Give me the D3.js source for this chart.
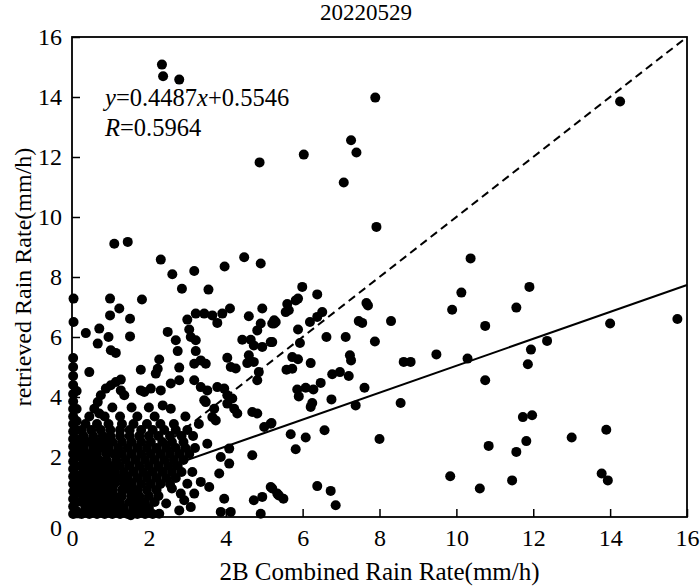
<!DOCTYPE html>
<html>
<head>
<meta charset="utf-8">
<script src="https://cdn.jsdelivr.net/npm/d3@7"></script>
<style>
  body { margin: 0; background: #fff; }
  text { font-family: "Liberation Serif", "Times New Roman", serif; fill: #000; }
</style>
</head>
<body>
<div id="chart"></div>
<script>

// data: [2B combined, retrieved] in mm/h
const titleText = "20220529";
const xTicks = [0, 2, 4, 6, 8, 10, 12, 14, 16];
const yTicks = [0, 2, 4, 6, 8, 10, 12, 14, 16];
const fitSlope = 0.4487;
const fitIntercept = 0.5546;
const fitR = 0.5964;

const sparsePoints = [
  [2.34,15.08],[2.37,14.69],[2.79,14.58],[7.89,13.98],[7.26,12.56],[7.40,12.15],[6.03,12.08],[4.88,11.82],
  [7.07,11.15],[7.92,9.67],[1.10,9.11],[1.45,9.17],[2.31,8.58],[2.61,8.09],[3.18,8.2],[3.97,8.35],
  [4.48,8.66],[4.91,8.45],[2.86,7.61],[3.55,7.58],[5.99,7.67],[14.26,13.85],[10.37,8.62],[11.9,7.67],
  [6.38,7.42],[5.6,7.1],[5.82,7.22],[5.56,6.83],[5.64,6.89],[5.88,7.28],[7.66,7.13],[7.7,7.05],
  [6.51,6.83],[6.19,6.5],[6.38,6.67],[5.3,6.5],[5.26,6.45],[7.46,6.53],[7.55,6.47],[8.3,6.53],
  [10.13,7.48],[9.89,6.91],[10.75,6.37],[5.88,6.25],[5.21,5.83],[5.93,5.8],[6.62,6.0],[7.12,6.0],
  [7.88,5.85],[9.48,5.42],[8.63,5.17],[8.81,5.17],[10.29,5.28],[10.75,4.56],[5.73,5.33],[5.88,5.26],
  [6.21,5.13],[7.23,5.39],[7.26,5.22],[5.58,4.91],[5.73,4.94],[6.77,4.76],[6.97,4.83],[7.2,4.7],
  [6.47,4.47],[5.86,4.25],[6.08,4.31],[6.28,4.25],[5.9,4.02],[7.61,4.31],[6.75,3.92],[6.25,3.8],
  [6.21,3.67],[7.38,3.72],[8.55,3.8],[5.19,3.13],[5.69,2.76],[6.08,2.65],[6.57,2.89],[5.82,2.26],
  [8.0,2.6],[9.84,1.36],[10.61,0.95],[5.21,0.95],[5.38,0.72],[5.5,0.61],[6.38,1.03],[6.73,0.87],
  [6.86,0.39],[10.84,2.37],[11.56,6.98],[14.0,6.45],[15.75,6.6],[12.36,5.87],[11.94,5.58],[11.86,5.09],
  [11.73,3.33],[11.97,3.39],[13.9,2.91],[11.82,2.53],[11.56,2.17],[13.0,2.65],[13.78,1.45],[13.94,1.22],
  [11.45,1.22]
];

const midPoints = [
  [0.04,7.28],[0.04,6.5],[0.36,6.13],[0.99,7.28],[1.23,6.95],[0.99,6.72],[1.51,6.61],[1.82,7.25],
  [0.71,6.28],[0.95,6.0],[0.67,5.78],[1.51,6.02],[1.01,5.56],[1.14,5.47],[3.22,6.78],[3.44,6.78],
  [3.65,6.72],[3.91,6.78],[4.11,6.95],[3.0,6.58],[2.49,6.17],[3.05,6.25],[3.09,6.0],[2.7,5.89],
  [2.75,5.53],[3.22,5.89],[3.22,5.53],[3.35,5.22],[3.48,5.11],[3.18,5.11],[2.79,4.98],[3.78,6.47],
  [4.6,6.69],[4.95,6.95],[5.21,6.45],[4.91,6.45],[4.82,6.22],[4.43,5.91],[4.65,5.91],[4.73,5.72],
  [4.95,5.67],[4.6,5.39],[4.56,5.13],[4.73,5.17],[4.04,5.31],[4.13,5.0],[4.26,4.95],[4.86,4.83],
  [4.82,4.56],[5.17,5.83],[5.26,6.56],[2.27,5.25],[2.23,4.94],[2.18,4.78],[1.79,4.91],[0.45,4.83],
  [1.79,4.22],[2.05,4.28],[1.88,4.17],[1.27,4.58],[1.14,4.5],[1.01,4.39],[0.88,4.28],[0.75,4.06],
  [0.67,3.83],[0.58,3.61],[0.71,3.45],[1.27,4.22],[1.36,4.06],[2.31,4.22],[2.57,4.45],[2.79,4.56],
  [2.36,3.72],[2.57,3.61],[3.18,4.56],[3.35,4.33],[3.52,4.22],[3.48,3.83],[3.78,4.33],[3.96,4.28],
  [4.04,4.06],[4.17,3.95],[4.04,3.78],[4.22,3.61],[4.3,3.45],[3.7,3.61],[3.65,3.33],[3.74,3.22],
  [3.44,3.89],[4.69,3.5],[4.82,3.45],[5.0,3.0],[5.17,3.11],[3.52,2.44],[4.09,2.28],[3.87,2.0],
  [4.09,1.78],[4.69,2.06],[3.13,1.5],[3.35,1.17],[3.83,1.45],[3.57,1.0],[3.96,0.61],[3.0,1.11],
  [2.83,0.78],[3.18,0.78],[2.92,0.56],[3.09,0.33],[2.79,0.22],[4.73,0.56],[4.95,0.67],[5.17,1.0],
  [5.34,0.78],[3.87,0.17],[4.13,0.17],[4.91,0.11],[1.53,0.06],[2.27,0.11],[2.45,0.45],[2.6,0.95]
];

// points stacked along x = 0
const axisColumn = [
  [0.03,0.1],[0.03,0.35],[0.03,0.6],[0.03,0.85],[0.03,1.1],[0.03,1.35],[0.03,1.6],[0.03,1.85],
  [0.03,2.1],[0.03,2.35],[0.03,2.6],[0.03,2.85],[0.03,3.1],[0.03,3.35],[0.03,3.6],[0.03,3.85],
  [0.03,4.1],[0.03,4.4],[0.03,4.7],[0.03,5.0],[0.03,5.3],
  [0.12,0.2],[0.12,0.5],[0.12,0.8],[0.12,1.1],[0.12,1.4],[0.12,1.7],[0.12,2.0],[0.12,2.3],
  [0.12,2.6],[0.12,2.9],[0.12,3.2],[0.12,3.6],[0.12,4.2]
];

// the crowded patch near the origin, row by row
const densePoints = [
  [0.25,0.1],[0.45,0.1],[0.65,0.1],[0.85,0.1],[1.05,0.1],[1.25,0.1],[1.45,0.1],[1.7,0.1],[1.9,0.1],[2.1,0.1],
  [0.35,0.3],[0.55,0.3],[0.75,0.3],[0.95,0.3],[1.15,0.3],[1.35,0.3],[1.6,0.3],[1.8,0.3],[2.0,0.3],
  [0.25,0.5],[0.45,0.5],[0.65,0.5],[0.85,0.5],[1.05,0.5],[1.25,0.5],[1.5,0.5],[1.7,0.5],[1.9,0.5],[2.15,0.5],
  [0.3,0.7],[0.5,0.7],[0.7,0.7],[0.9,0.7],[1.1,0.7],[1.3,0.7],[1.55,0.7],[1.75,0.7],[2.0,0.7],[2.25,0.7],
  [0.25,0.9],[0.45,0.9],[0.65,0.9],[0.85,0.9],[1.05,0.9],[1.3,0.9],[1.5,0.9],[1.7,0.9],[1.95,0.9],[2.2,0.9],
  [0.3,1.1],[0.5,1.1],[0.7,1.1],[0.9,1.1],[1.1,1.1],[1.35,1.1],[1.55,1.1],[1.8,1.1],[2.05,1.1],[2.3,1.1],[2.55,1.1],
  [0.25,1.3],[0.45,1.3],[0.65,1.3],[0.85,1.3],[1.05,1.3],[1.25,1.3],[1.45,1.3],[1.7,1.3],[1.95,1.3],[2.2,1.3],[2.45,1.3],[2.7,1.3],
  [0.3,1.5],[0.5,1.5],[0.7,1.5],[0.9,1.5],[1.1,1.5],[1.35,1.5],[1.6,1.5],[1.85,1.5],[2.1,1.5],[2.35,1.5],[2.6,1.5],[2.85,1.5],
  [0.25,1.7],[0.45,1.7],[0.65,1.7],[0.85,1.7],[1.05,1.7],[1.25,1.7],[1.5,1.7],[1.75,1.7],[2.0,1.7],[2.25,1.7],[2.5,1.7],[2.75,1.7],
  [0.3,1.9],[0.5,1.9],[0.7,1.9],[0.9,1.9],[1.15,1.9],[1.4,1.9],[1.65,1.9],[1.9,1.9],[2.15,1.9],[2.4,1.9],[2.65,1.9],[2.9,1.9],
  [0.25,2.1],[0.45,2.1],[0.65,2.1],[0.9,2.1],[1.1,2.1],[1.3,2.1],[1.55,2.1],[1.8,2.1],[2.05,2.1],[2.3,2.1],[2.55,2.1],[2.8,2.1],[3.05,2.1],
  [0.3,2.3],[0.55,2.3],[0.75,2.3],[0.95,2.3],[1.2,2.3],[1.45,2.3],[1.7,2.3],[1.95,2.3],[2.2,2.3],[2.45,2.3],[2.7,2.3],[2.95,2.3],[3.2,2.3],
  [0.25,2.5],[0.45,2.5],[0.65,2.5],[0.85,2.5],[1.05,2.5],[1.3,2.5],[1.55,2.5],[1.8,2.5],[2.05,2.5],[2.35,2.5],[2.6,2.5],[2.9,2.5],
  [0.3,2.7],[0.55,2.7],[0.8,2.7],[1.0,2.7],[1.25,2.7],[1.5,2.7],[1.75,2.7],[2.0,2.7],[2.25,2.7],[2.55,2.7],[2.85,2.7],[3.15,2.7],
  [0.25,2.9],[0.5,2.9],[0.75,2.9],[1.0,2.9],[1.25,2.9],[1.5,2.9],[1.8,2.9],[2.1,2.9],[2.4,2.9],[2.7,2.9],[3.0,2.9],
  [0.35,3.1],[0.65,3.1],[0.95,3.1],[1.3,3.1],[1.6,3.1],[1.95,3.1],[2.3,3.1],[2.65,3.1],[3.3,3.1],
  [0.45,3.35],[0.85,3.35],[1.25,3.35],[1.7,3.35],[2.15,3.35],[2.95,3.35],
  [1.05,3.65],[1.55,3.65],[2.0,3.65]
];

const allPoints = axisColumn.concat(densePoints, midPoints, sparsePoints);

const margin = {top: 37, right: 13, bottom: 71, left: 72};
const svgWidth = 700;
const svgHeight = 588;
const width = svgWidth - margin.left - margin.right;
const height = svgHeight - margin.top - margin.bottom;
const serif = '"Liberation Serif", "Times New Roman", serif';

let svg = d3.select("#chart").append("svg")
            .attr("width", svgWidth)
            .attr("height", svgHeight)
            .attr("font-family", serif);

let g = svg.append("g").attr("transform", `translate(${margin.left},${margin.top})`);

let xScale = d3.scaleLinear().domain([0, 16]).range([0, width]);
let yScale = d3.scaleLinear().domain([0, 16]).range([height, 0]);

// scatter
g.selectAll("circle.pt")
 .data(allPoints)
 .enter().append("circle")
 .attr("class", "pt")
 .attr("cx", d => xScale(d[0]))
 .attr("cy", d => yScale(d[1]))
 .attr("r", 5)
 .attr("fill", "#000");

// 1:1 line
g.append("line")
 .attr("x1", xScale(0)).attr("y1", yScale(0))
 .attr("x2", xScale(16)).attr("y2", yScale(16))
 .attr("stroke", "#000")
 .attr("stroke-width", 2)
 .attr("stroke-dasharray", "8,5");

// fitted line
g.append("line")
 .attr("x1", xScale(0)).attr("y1", yScale(fitIntercept))
 .attr("x2", xScale(16)).attr("y2", yScale(fitSlope * 16 + fitIntercept))
 .attr("stroke", "#000")
 .attr("stroke-width", 2);

// axes, ticks pointing inward
let xAxis = d3.axisBottom(xScale).tickValues(xTicks).tickSize(-8).tickPadding(12);
let yAxis = d3.axisLeft(yScale).tickValues(yTicks).tickSize(-8).tickPadding(10);

let xAxisGroup = g.append("g").attr("transform", `translate(0,${height})`).call(xAxis);
let yAxisGroup = g.append("g").call(yAxis);

[xAxisGroup, yAxisGroup].forEach(ax => {
  ax.attr("font-family", serif).attr("font-size", 24);
  ax.select(".domain").remove();
  ax.selectAll(".tick line").attr("stroke", "#000").attr("stroke-width", 1.5);
  ax.selectAll(".tick text").attr("fill", "#000");
});
// the zero label on the y axis sits a bit lower
yAxisGroup.selectAll(".tick text").filter(d => d === 0).attr("dy", "0.75em");

// frame
g.append("rect")
 .attr("x", 0).attr("y", 0)
 .attr("width", width).attr("height", height)
 .attr("fill", "none")
 .attr("stroke", "#000")
 .attr("stroke-width", 1.8);

// equation
let eq = g.append("text").attr("x", 33).attr("y", 69).attr("font-size", 24.5);
eq.append("tspan").attr("font-style", "italic").text("y");
eq.append("tspan").text("=" + fitSlope.toFixed(4));
eq.append("tspan").attr("font-style", "italic").text("x");
eq.append("tspan").text("+" + fitIntercept.toFixed(4));

let rText = g.append("text").attr("x", 33).attr("y", 99).attr("font-size", 24.5);
rText.append("tspan").attr("font-style", "italic").text("R");
rText.append("tspan").text("=" + fitR.toFixed(4));

// titles
svg.append("text")
   .attr("x", 366).attr("y", 20)
   .attr("text-anchor", "middle")
   .attr("font-size", 23)
   .text(titleText);

svg.append("text")
   .attr("x", margin.left + width / 2).attr("y", 580)
   .attr("text-anchor", "middle")
   .attr("font-size", 25)
   .text("2B Combined Rain Rate(mm/h)");

svg.append("text")
   .attr("transform", `translate(31,${margin.top + height / 2}) rotate(-90)`)
   .attr("text-anchor", "middle")
   .attr("font-size", 24)
   .text("retrieved Rain Rate(mm/h)");

</script>
</body>
</html>
